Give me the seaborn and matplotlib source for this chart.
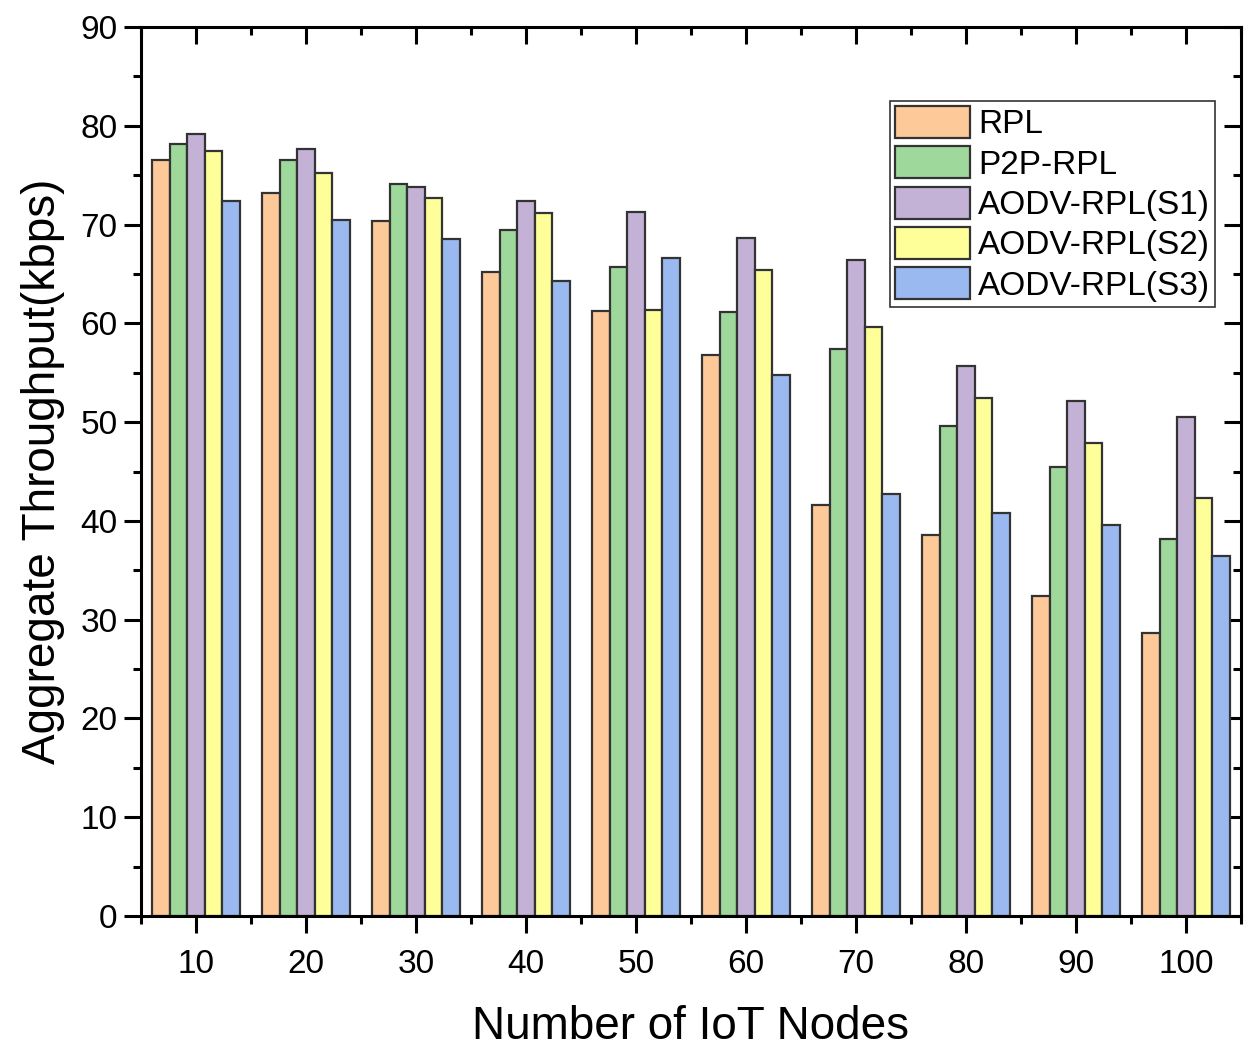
import pandas as pd
import numpy as np
import matplotlib
matplotlib.use("Agg")
import matplotlib.pyplot as plt
import seaborn as sns
from matplotlib.ticker import MultipleLocator, FixedLocator

nodes = [10, 20, 30, 40, 50, 60, 70, 80, 90, 100]
series = ["RPL", "P2P-RPL", "AODV-RPL(S1)", "AODV-RPL(S2)", "AODV-RPL(S3)"]
rpl = [76.5, 73.2, 70.4, 65.2, 61.2, 56.8, 41.6, 38.6, 32.4, 28.6]
p2p_rpl = [78.2, 76.5, 74.1, 69.4, 65.7, 61.1, 57.4, 49.6, 45.5, 38.2]
aodv_s1 = [79.2, 77.6, 73.8, 72.4, 71.3, 68.6, 66.4, 55.7, 52.1, 50.5]
aodv_s2 = [77.4, 75.2, 72.7, 71.2, 61.4, 65.4, 59.6, 52.4, 47.9, 42.3]
aodv_s3 = [72.4, 70.5, 68.5, 64.3, 66.6, 54.8, 42.7, 40.8, 39.6, 36.4]
colors = ["#FDC998", "#9ED89B", "#C3B1D6", "#FFFF99", "#9BB9F1"]

values = [rpl, p2p_rpl, aodv_s1, aodv_s2, aodv_s3]
rows = []
for name, vals in zip(series, values):
    for n, v in zip(nodes, vals):
        rows.append({"nodes": str(n), "series": name, "throughput": v})
df = pd.DataFrame(rows)

sns.set_style("ticks")
plt.rcParams["font.family"] = ["Liberation Sans", "DejaVu Sans"]
for k in ["text.color", "axes.labelcolor", "xtick.color", "ytick.color"]:
    plt.rcParams[k] = "black"

fig = plt.figure(figsize=(12.48, 10.55), dpi=100)
ax = fig.add_axes([141 / 1248, 1 - 916 / 1055, 1100 / 1248, 889 / 1055])

sns.barplot(data=df, x="nodes", y="throughput", hue="series", order=[str(n) for n in nodes],
            hue_order=series, palette=colors, width=0.8, gap=0, edgecolor="#333333",
            linewidth=1.6, saturation=1, ax=ax)

ax.set_xlim(-0.5, 9.5)
ax.set_ylim(0, 90)
ax.yaxis.set_major_locator(MultipleLocator(10))
ax.yaxis.set_minor_locator(MultipleLocator(5))
ax.xaxis.set_minor_locator(FixedLocator(np.arange(-0.5, 10, 1)))

for s in ax.spines.values():
    s.set_visible(True)
    s.set_linewidth(2.2)
    s.set_color("black")

ax.tick_params(axis="both", which="major", direction="out", length=12, width=2.2,
               labelsize=24, pad=5)
ax.tick_params(axis="both", which="minor", direction="out", length=6, width=2.2)
ax.tick_params(axis="x", which="major", pad=12)

# mirrored ticks on top and right, pointing inwards
top = ax.secondary_xaxis("top")
top.set_xticks(range(10))
top.xaxis.set_minor_locator(FixedLocator(np.arange(-0.5, 10, 1)))
top.tick_params(which="major", direction="in", length=12, width=2.2, labeltop=False)
top.tick_params(which="minor", direction="in", length=6, width=2.2)
right = ax.secondary_yaxis("right")
right.yaxis.set_major_locator(MultipleLocator(10))
right.yaxis.set_minor_locator(MultipleLocator(5))
right.tick_params(which="major", direction="in", length=12, width=2.2, labelright=False)
right.tick_params(which="minor", direction="in", length=6, width=2.2)

ax.set_xlabel("Number of IoT Nodes", fontsize=33, labelpad=18)
ax.set_ylabel("Aggregate Throughput(kbps)", fontsize=33, labelpad=11)

leg = ax.legend(loc="upper right", bbox_to_anchor=(0.9764, 0.9168), borderaxespad=0,
                fontsize=24, frameon=True, fancybox=False, handlelength=2.25, handleheight=1.1,
                handletextpad=0.25, labelspacing=0.18, borderpad=0.15, title=None)
leg.get_frame().set_edgecolor("black")
leg.get_frame().set_linewidth(1.2)

fig.savefig("out.png", dpi=100)
